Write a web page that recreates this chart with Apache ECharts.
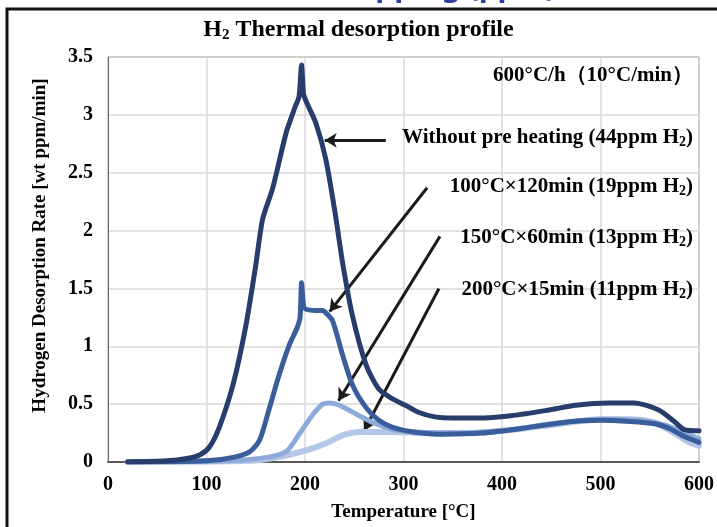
<!DOCTYPE html>
<html>
<head>
<meta charset="utf-8">
<script src="https://cdn.jsdelivr.net/npm/echarts@6/dist/echarts.min.js"></script>
<style>
html,body{margin:0;padding:0;background:#fff;}
#chart{width:717px;height:527px;}
</style>
</head>
<body>
<div id="chart"></div>
<script>
// ---- data ----
const xTicks = [0, 100, 200, 300, 400, 500, 600];
const yTicks = [0, 0.5, 1, 1.5, 2, 2.5, 3, 3.5];

const noPreX = [20, 60, 80, 93, 103, 113, 127, 140, 150, 157, 167, 181, 190, 194, 196.5, 198.5, 201, 211, 221, 231, 238, 248, 262, 275, 288, 302, 315, 332, 350, 375, 409, 448, 475, 508, 534, 559, 575, 585, 600];
const noPreY = [0, 0.01, 0.03, 0.06, 0.13, 0.3, 0.67, 1.18, 1.7, 2.1, 2.36, 2.85, 3.07, 3.16, 3.43, 3.18, 3.12, 2.93, 2.62, 2.13, 1.73, 1.27, 0.84, 0.63, 0.55, 0.49, 0.43, 0.39, 0.38, 0.38, 0.4, 0.45, 0.49, 0.51, 0.51, 0.45, 0.35, 0.28, 0.27];

const t100X = [20, 100, 127, 144, 154, 164, 174, 184, 192, 195, 196.5, 198.5, 201, 211, 218, 221, 228, 238, 248, 262, 275, 289, 310, 340, 380, 420, 460, 500, 530, 555, 570, 585, 600];
const t100Y = [0, 0.01, 0.04, 0.09, 0.19, 0.47, 0.76, 1.01, 1.16, 1.25, 1.55, 1.35, 1.32, 1.31, 1.31, 1.29, 1.22, 0.93, 0.67, 0.47, 0.36, 0.3, 0.26, 0.24, 0.25, 0.29, 0.34, 0.36, 0.35, 0.33, 0.29, 0.22, 0.17];

const t150X = [20, 120, 161, 181, 194, 208, 218, 225, 235, 255, 272, 289, 310, 350, 400, 450, 500, 540, 565, 580, 600];
const t150Y = [0, 0.01, 0.04, 0.09, 0.24, 0.41, 0.5, 0.51, 0.49, 0.4, 0.33, 0.28, 0.26, 0.25, 0.27, 0.33, 0.37, 0.36, 0.32, 0.27, 0.2];

const t200X = [20, 144, 177, 201, 221, 238, 255, 289, 320, 360, 400, 450, 500, 530, 555, 575, 590, 600];
const t200Y = [0, 0.01, 0.05, 0.1, 0.16, 0.23, 0.26, 0.26, 0.25, 0.25, 0.27, 0.32, 0.37, 0.37, 0.34, 0.25, 0.17, 0.14];

const seriesNames = ['Without pre heating', '100°C×120min', '150°C×60min', '200°C×15min'];

// arrows [fromX, fromY, toX, toY] in data units
const arrowFrom = [[282, 2.78], [324, 2.37], [337, 1.95], [336, 1.5]];
const arrowTo = [[220, 2.78], [225, 1.3], [234, 0.53], [260, 0.27]];
// ---------------------------------------

function pairs(xs, ys) { return xs.map((x, i) => [x, ys[i]]); }

const serif = '"Liberation Serif", "Times New Roman", serif';
const rich = {
  b: { fontFamily: serif, fontWeight: 'bold', fontSize: 21, color: '#000' },
  s: { fontFamily: serif, fontWeight: 'bold', fontSize: 14, color: '#000', padding: [9, 0, 0, 0] }
};
const richTitle = {
  b: { fontFamily: serif, fontWeight: 'bold', fontSize: 24, color: '#000' },
  s: { fontFamily: serif, fontWeight: 'bold', fontSize: 15, color: '#000', padding: [10, 0, 0, 0] }
};

function annot(text, right, y) {
  return {
    type: 'text', right: 717 - right, top: y - 13, z: 100,
    style: { rich: rich, text: text, align: 'right' }
  };
}

const chart = echarts.init(document.getElementById('chart'), null, { renderer: 'canvas' });
const colors = ['#283d6b', '#3a5d9c', '#8eaadb', '#b4c7e7'];
const widths = [5, 5, 5, 6];
const xsAll = [noPreX, t100X, t150X, t200X];
const ysAll = [noPreY, t100Y, t150Y, t200Y];

const series = seriesNames.map((n, i) => ({
  name: n,
  type: 'line',
  data: pairs(xsAll[i], ysAll[i]),
  showSymbol: false,
  smooth: 0.25,
  z: 10 - i,
  lineStyle: { color: colors[i], width: widths[i], cap: 'round', join: 'round' }
}));

series.push({
  type: 'line', data: [], silent: true, z: 20,
  markLine: {
    silent: true,
    symbol: ['none', 'arrow'],
    symbolSize: [11, 12],
    label: { show: false },
    lineStyle: { color: '#1b1b1b', width: 3, type: 'solid' },
    emphasis: { disabled: true },
    data: arrowFrom.map((f, i) => [{ coord: f }, { coord: arrowTo[i] }])
  }
});

chart.setOption({
  animation: false,
  backgroundColor: '#fff',
  grid: { left: 108, right: 16, top: 57, bottom: 62, show: true, borderColor: '#6b6b6b', borderWidth: 1, backgroundColor: 'transparent' },
  xAxis: {
    type: 'value', min: 0, max: 600, interval: 100,
    name: 'Temperature [°C]', nameLocation: 'middle', nameGap: 41,
    nameTextStyle: { fontFamily: serif, fontWeight: 'bold', fontSize: 19, color: '#000' },
    axisLine: { show: true, lineStyle: { color: '#595959', width: 2 } },
    axisTick: { show: false },
    splitLine: { show: true, lineStyle: { color: '#d9d9d9', width: 1.5 } },
    axisLabel: { margin: 13, fontFamily: serif, fontWeight: 'bold', fontSize: 20, color: '#000',
      formatter: v => xTicks.includes(v) ? String(v) : '' }
  },
  yAxis: {
    type: 'value', min: 0, max: 3.5, interval: 0.5,
    name: 'Hydrogen Desorption Rate [wt ppm/min]', nameLocation: 'middle', nameGap: 58, nameRotate: 90,
    nameTextStyle: { fontFamily: serif, fontWeight: 'bold', fontSize: 19, color: '#000', padding: [0, 0, 0, 28] },
    axisLine: { show: true, lineStyle: { color: '#6b6b6b', width: 1 } },
    axisTick: { show: false },
    splitLine: { show: true, lineStyle: { color: '#d9d9d9', width: 1.5 } },
    axisLabel: { margin: 15, fontFamily: serif, fontWeight: 'bold', fontSize: 20, color: '#000',
      formatter: v => yTicks.includes(v) ? String(v) : '' }
  },
  series: series,
  graphic: [
    { type: 'rect', shape: { x: 7, y: 9, width: 760, height: 600 }, style: { fill: 'none', stroke: '#111', lineWidth: 3 }, z: 50 },
    { type: 'text', right: 717 - 556, top: -28, style: { text: 'H₂ trapping (ppm)', font: 'bold 30px "Noto Sans", sans-serif', fill: '#2f3ea3' }, z: 1 },
    { type: 'text', left: 'center', top: 18, style: { rich: richTitle, text: '{b|H}{s|2}{b| Thermal desorption profile}' }, z: 100 },
    annot('{b|600°C/h（10°C/min）}', 693, 78),
    annot('{b|Without pre heating (44ppm H}{s|2}{b|)}', 693, 140),
    annot('{b|100°C×120min (19ppm H}{s|2}{b|)}', 693, 189),
    annot('{b|150°C×60min (13ppm H}{s|2}{b|)}', 693, 240),
    annot('{b|200°C×15min (11ppm H}{s|2}{b|)}', 693, 292)
  ]
});
</script>
</body>
</html>
